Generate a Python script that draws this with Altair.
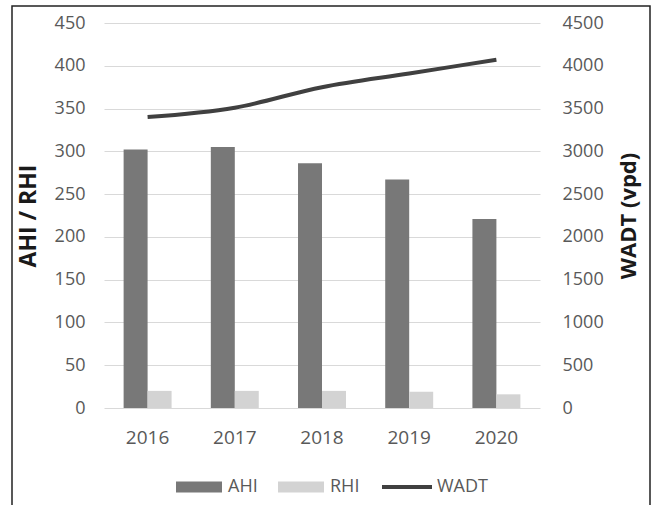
import altair as alt
import pandas as pd

# Yearly values
years = ["2016", "2017", "2018", "2019", "2020"]
ahi = [302, 305, 286, 267, 221]
rhi = [20, 20, 20, 19, 16]
wadt = [3400, 3510, 3750, 3910, 4070]

left_ticks = list(range(0, 451, 50))
right_ticks = list(range(0, 4501, 500))

bars = pd.DataFrame({
    "year": years * 2,
    "series": ["AHI"] * len(years) + ["RHI"] * len(years),
    "value": ahi + rhi,
})
trend = pd.DataFrame({"year": years, "series": ["WADT"] * len(years), "wadt": wadt})

FONT = "Open Sans"
TEXT = "#595959"
TITLE = "#1a1a1a"
GRID = "#d9d9d9"
W, H = 436, 385

x_enc = alt.X(
    "year:N",
    scale=alt.Scale(paddingInner=0.45, paddingOuter=0.225),
    axis=alt.Axis(title=None, labelAngle=0, domain=False, ticks=False, grid=False,
                  labelPadding=20, labelFontSize=19, labelColor=TEXT, labelFont=FONT),
)

# swatch shape for the bar legend: a wide flat rectangle
swatch = "M-1,-0.24H1V0.24H-1Z"

bar_layer = alt.Chart(bars).mark_bar().encode(
    x=x_enc,
    xOffset=alt.XOffset("series:N", scale=alt.Scale(paddingInner=0, paddingOuter=0)),
    y=alt.Y(
        "value:Q",
        scale=alt.Scale(domain=[0, 450], nice=False),
        axis=alt.Axis(title="AHI / RHI", values=left_ticks, domain=False, ticks=False,
                      grid=True, gridColor=GRID, gridWidth=1.2,
                      labelPadding=19, labelFontSize=18, labelColor=TEXT, labelFont=FONT,
                      titleFontSize=23, titleFont=FONT, titleFontWeight="bold",
                      titleColor=TITLE, titleAngle=270, titleAlign="center",
                      titleBaseline="middle", titleX=-76, titleY=H / 2),
    ),
    fill=alt.Fill(
        "series:N",
        scale=alt.Scale(domain=["AHI", "RHI"], range=["#787878", "#d3d3d3"]),
        legend=alt.Legend(title=None, orient="none", direction="horizontal",
                          legendX=72, legendY=441, symbolType=swatch, symbolSize=2116,
                          symbolStrokeWidth=0, labelFontSize=18, labelFont=FONT,
                          labelColor=TEXT, labelOffset=6, columnPadding=20, padding=0),
    ),
)

line_layer = alt.Chart(trend).mark_line(strokeWidth=4, interpolate="monotone").encode(
    x=x_enc,
    y=alt.Y(
        "wadt:Q",
        scale=alt.Scale(domain=[0, 4500], nice=False),
        axis=alt.Axis(title="WADT (vpd)", orient="right", values=right_ticks, format="d",
                      domain=False, ticks=False, grid=False, labelPadding=22,
                      labelFontSize=18, labelColor=TEXT, labelFont=FONT,
                      titleFontSize=22, titleFont=FONT, titleFontWeight="bold",
                      titleColor=TITLE, titleAngle=270, titleAlign="center",
                      titleBaseline="middle", titleX=88, titleY=H / 2),
    ),
    stroke=alt.Stroke(
        "series:N",
        scale=alt.Scale(domain=["WADT"], range=["#404040"]),
        legend=alt.Legend(title=None, orient="none", direction="horizontal",
                          legendX=276, legendY=437, symbolType="stroke", symbolSize=2500,
                          symbolStrokeWidth=4, labelFontSize=18, labelFont=FONT,
                          labelColor=TEXT, labelOffset=3, padding=0),
    ),
)

# outer frame around the whole figure
frame = alt.Chart(alt.Data(values=[{"f": 1}])).mark_rect(
    fillOpacity=0, stroke="#222222", strokeWidth=1.5
).encode(
    x=alt.value(-92), x2=alt.value(546), y=alt.value(-17), y2=alt.value(520)
)

chart = (
    alt.layer(bar_layer, line_layer, frame)
    .resolve_scale(y="independent", x="shared")
    .properties(
        width=W,
        height=H,
        autosize=alt.AutoSizeParams(type="none"),
        padding={"left": 104, "top": 23, "right": 116, "bottom": 97},
        background="white",
    )
    .configure_view(stroke=None)
)

chart.save("out.html", embed_options={"renderer": "svg", "actions": False})
